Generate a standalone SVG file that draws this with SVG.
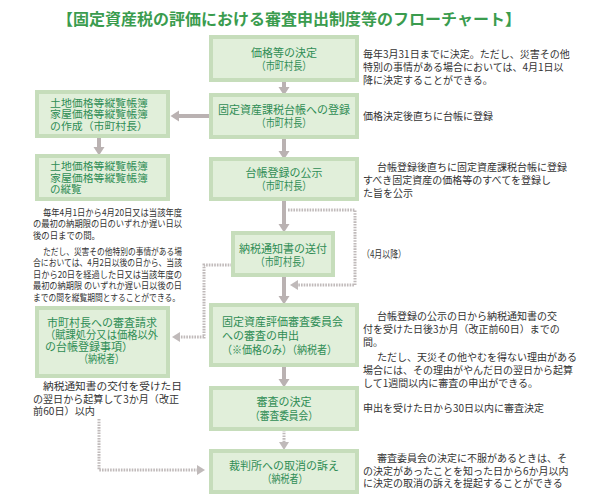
<svg xmlns="http://www.w3.org/2000/svg" width="589" height="501" viewBox="0 0 589 501">
<style>
text{font-family:"Noto Sans CJK JP","Noto Sans CJK SC",sans-serif;}
.title{font-size:15.5px;font-weight:bold;fill:#3a9c4e;}
.box{fill:#e1efda;stroke:#c6ddbb;stroke-width:4;}
.bt{font-size:11px;fill:#2f8d55;}
.bs{font-size:10.5px;fill:#2f8d55;}
.c{text-anchor:middle;}
.note{font-size:10px;fill:#333;}
.small{font-size:9.5px;fill:#333;}
.conn{fill:none;stroke:#bab2b2;stroke-width:4;}
.dot{fill:none;stroke:#c0baba;stroke-width:3;stroke-dasharray:1.6 1.1;}
</style>
<defs>
<marker id="ah" markerUnits="userSpaceOnUse" markerWidth="12" markerHeight="14" viewBox="0 -7 10 14" refX="0" refY="0" orient="auto">
<path d="M0,-5.5 L8.5,0 L0,5.5Z" fill="#bab2b2"/>
</marker>
<marker id="ahd" markerUnits="userSpaceOnUse" markerWidth="12" markerHeight="14" viewBox="0 -7 10 14" refX="0" refY="0" orient="auto">
<path d="M0,-5 L8,0 L0,5Z" fill="#c0baba"/>
</marker>
</defs>

<text class="title c" x="289" y="24.5" textLength="464" lengthAdjust="spacingAndGlyphs">【固定資産税の評価における審査申出制度等のフローチャート】</text>

<g id="connectors">
<line class="conn" x1="284" y1="80" x2="284" y2="87" marker-end="url(#ah)"/>
<line class="conn" x1="211" y1="116" x2="179" y2="116" marker-end="url(#ah)"/>
<line class="conn" x1="99" y1="137" x2="99" y2="147" marker-end="url(#ah)"/>
<line class="conn" x1="284" y1="137" x2="284" y2="151" marker-end="url(#ah)"/>
<line class="conn" x1="284" y1="199" x2="284" y2="224" marker-end="url(#ah)"/>
<line class="conn" x1="284" y1="275" x2="284" y2="296" marker-end="url(#ah)"/>
<line class="conn" x1="284" y1="365" x2="284" y2="379" marker-end="url(#ah)"/>
<line class="dot" x1="284" y1="430" x2="284" y2="442" marker-end="url(#ahd)"/>
<path class="dot" d="M288,210 H355 V285 H298" marker-end="url(#ahd)"/>
<path class="dot" d="M232,265 H204 V337 H180" marker-end="url(#ahd)"/>
<path class="dot" d="M99,419 V470 H197" marker-end="url(#ahd)"/>
</g>

<g id="n1">
<rect class="box" x="211" y="37" width="146" height="43"/>
<text class="bt c"><tspan x="284" y="56.5">価格等の決定</tspan><tspan x="284" y="70" textLength="55" lengthAdjust="spacingAndGlyphs">（市町村長）</tspan></text>
</g>
<g id="n1note">
<text class="note"><tspan x="363" y="58">毎年3月31日までに決定。ただし、災害その他</tspan><tspan x="363" y="71">特別の事情がある場合においては、4月1日以</tspan><tspan x="363" y="84">降に決定することができる。</tspan></text>
</g>

<g id="n2">
<rect class="box" x="211" y="95" width="146" height="42"/>
<text class="bt c"><tspan x="284" y="113.5">固定資産課税台帳への登録</tspan><tspan x="284" y="127" textLength="55" lengthAdjust="spacingAndGlyphs">（市町村長）</tspan></text>
</g>
<g id="n2note">
<text class="note" x="363" y="120">価格決定後直ちに台帳に登録</text>
</g>

<g id="L1">
<rect class="box" x="37" y="92" width="131" height="44"/>
<text class="bs"><tspan x="50" y="106.5" textLength="98" lengthAdjust="spacingAndGlyphs">土地価格等縦覧帳簿</tspan><tspan x="50" y="118" textLength="98" lengthAdjust="spacingAndGlyphs">家屋価格等縦覧帳簿</tspan><tspan x="50" y="129.5" textLength="98" lengthAdjust="spacingAndGlyphs">の作成（市町村長）</tspan></text>
</g>

<g id="L2">
<rect class="box" x="37" y="156" width="131" height="43"/>
<text class="bs"><tspan x="50" y="170" textLength="98" lengthAdjust="spacingAndGlyphs">土地価格等縦覧帳簿</tspan><tspan x="50" y="181.5" textLength="98" lengthAdjust="spacingAndGlyphs">家屋価格等縦覧帳簿</tspan><tspan x="50" y="193">の縦覧</tspan></text>
</g>
<g id="L2note">
<text class="small"><tspan x="43" y="215.6" textLength="139" lengthAdjust="spacingAndGlyphs">毎年4月1日から4月20日又は当該年度</tspan><tspan x="33" y="227" textLength="149" lengthAdjust="spacingAndGlyphs">の最初の納期限の日のいずれか遅い日以</tspan><tspan x="33" y="238.6" textLength="67" lengthAdjust="spacingAndGlyphs">後の日までの間。</tspan><tspan x="43" y="254.6" textLength="139" lengthAdjust="spacingAndGlyphs">ただし、災害その他特別の事情がある場</tspan><tspan x="33" y="266" textLength="149" lengthAdjust="spacingAndGlyphs">合においては、4月2日以後の日から、当該</tspan><tspan x="33" y="277.6" textLength="149" lengthAdjust="spacingAndGlyphs">日から20日を経過した日又は当該年度の</tspan><tspan x="33" y="289" textLength="149" lengthAdjust="spacingAndGlyphs">最初の納期限 のいずれか遅い日以後の日</tspan><tspan x="33" y="300.6" textLength="147" lengthAdjust="spacingAndGlyphs">までの間を縦覧期間とすることができる。</tspan></text>
</g>

<g id="n3">
<rect class="box" x="211" y="159" width="146" height="40"/>
<text class="bt c"><tspan x="284" y="176.5">台帳登録の公示</tspan><tspan x="284" y="190" textLength="55" lengthAdjust="spacingAndGlyphs">（市町村長）</tspan></text>
</g>
<g id="n3note">
<text class="note"><tspan x="377" y="171">台帳登録後直ちに固定資産課税台帳に登録</tspan><tspan x="363" y="184">すべき固定資産の価格等のすべてを登録し</tspan><tspan x="363" y="197">た旨を公示</tspan></text>
</g>

<g id="n4">
<rect class="box" x="233" y="233" width="100" height="42"/>
<text class="bt c"><tspan x="283" y="252.5">納税通知書の送付</tspan><tspan x="283" y="266" textLength="55" lengthAdjust="spacingAndGlyphs">（市町村長）</tspan></text>
</g>
<g id="n4note">
<text class="note" x="362" y="258" textLength="44" lengthAdjust="spacingAndGlyphs">（4月以降）</text>
</g>

<g id="L3">
<rect class="box" x="37" y="308" width="131" height="68"/>
<text class="bt"><tspan x="47" y="327">市町村長への審査請求</tspan><tspan x="45" y="339" textLength="113" lengthAdjust="spacingAndGlyphs">（賦課処分又は価格以外</tspan><tspan x="45" y="351">の台帳登録事項）</tspan><tspan x="79" y="363" textLength="45" lengthAdjust="spacingAndGlyphs">（納税者）</tspan></text>
</g>
<g id="L3note">
<text class="note"><tspan x="43" y="390" textLength="139" lengthAdjust="spacingAndGlyphs">納税通知書の交付を受けた日</tspan><tspan x="33" y="402.5" textLength="146" lengthAdjust="spacingAndGlyphs">の翌日から起算して3か月（改正</tspan><tspan x="33" y="415" textLength="62" lengthAdjust="spacingAndGlyphs">前60日）以内</tspan></text>
</g>

<g id="n5">
<rect class="box" x="211" y="305" width="146" height="60"/>
<text class="bt"><tspan x="222" y="326">固定資産評価審査委員会</tspan><tspan x="222" y="340">への審査の申出</tspan><tspan x="222" y="354" textLength="115" lengthAdjust="spacingAndGlyphs">（※価格のみ）（納税者）</tspan></text>
</g>
<g id="n5note">
<text class="note"><tspan x="377" y="320">台帳登録の公示の日から納税通知書の交</tspan><tspan x="363" y="333">付を受けた日後3か月（改正前60日）までの</tspan><tspan x="363" y="346">間。</tspan><tspan x="377" y="361">ただし、天災その他やむを得ない理由がある</tspan><tspan x="363" y="374">場合には、その理由がやんだ日の翌日から起算</tspan><tspan x="363" y="387">して1週間以内に審査の申出ができる。</tspan></text>
</g>

<g id="n6">
<rect class="box" x="211" y="388" width="146" height="41"/>
<text class="bt c"><tspan x="284" y="406">審査の決定</tspan><tspan x="284" y="419.5" textLength="68" lengthAdjust="spacingAndGlyphs">（審査委員会）</tspan></text>
</g>
<g id="n6note">
<text class="note" x="363" y="412">申出を受けた日から30日以内に審査決定</text>
</g>

<g id="n7">
<rect class="box" x="211" y="451" width="146" height="41"/>
<text class="bt c"><tspan x="284" y="469.5">裁判所への取消の訴え</tspan><tspan x="285" y="483" textLength="45" lengthAdjust="spacingAndGlyphs">（納税者）</tspan></text>
</g>
<g id="n7note">
<text class="note"><tspan x="377" y="462">審査委員会の決定に不服があるときは、そ</tspan><tspan x="363" y="474.5">の決定があったことを知った日から6か月以内</tspan><tspan x="363" y="487">に決定の取消の訴えを提起することができる</tspan></text>
</g>
</svg>
